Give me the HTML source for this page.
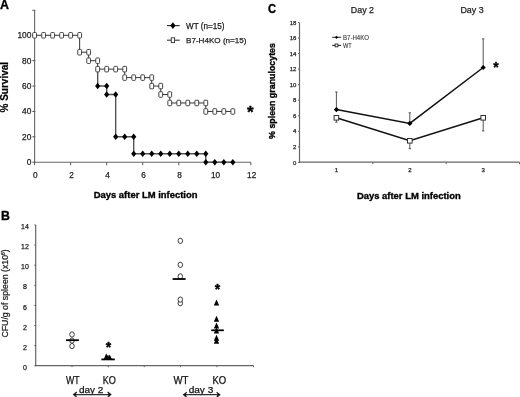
<!DOCTYPE html>
<html><head><meta charset="utf-8"><style>
html,body{margin:0;padding:0;background:#fff;width:520px;height:397px;overflow:hidden}
svg{display:block;will-change:transform;filter:blur(0.3px);font-family:"Liberation Sans", sans-serif}
</style></head><body>
<svg width="520" height="397" viewBox="0 0 520 397">
<rect width="520" height="397" fill="#fff"/>
<text x="0.10" y="8.90" font-size="12.4" text-anchor="start" font-weight="bold" fill="#000"  stroke="#000" stroke-width="0.35" stroke-linejoin="round">A</text>
<line x1="34.60" y1="10.30" x2="34.60" y2="162.70" stroke="#666" stroke-width="1.1" />
<line x1="32.30" y1="162.20" x2="35.30" y2="162.20" stroke="#555" stroke-width="1.0" />
<line x1="32.30" y1="136.82" x2="35.30" y2="136.82" stroke="#555" stroke-width="1.0" />
<line x1="32.30" y1="111.44" x2="35.30" y2="111.44" stroke="#555" stroke-width="1.0" />
<line x1="32.30" y1="86.06" x2="35.30" y2="86.06" stroke="#555" stroke-width="1.0" />
<line x1="32.30" y1="60.68" x2="35.30" y2="60.68" stroke="#555" stroke-width="1.0" />
<line x1="32.30" y1="35.30" x2="35.30" y2="35.30" stroke="#555" stroke-width="1.0" />
<line x1="32.30" y1="10.30" x2="35.30" y2="10.30" stroke="#555" stroke-width="1.0" />
<text x="31.40" y="165.10" font-size="8.4" text-anchor="end" font-weight="normal" fill="#222"  stroke="#222" stroke-width="0.25" stroke-linejoin="round">0</text>
<text x="31.40" y="139.72" font-size="8.4" text-anchor="end" font-weight="normal" fill="#222"  stroke="#222" stroke-width="0.25" stroke-linejoin="round">20</text>
<text x="31.40" y="114.34" font-size="8.4" text-anchor="end" font-weight="normal" fill="#222"  stroke="#222" stroke-width="0.25" stroke-linejoin="round">40</text>
<text x="31.40" y="88.96" font-size="8.4" text-anchor="end" font-weight="normal" fill="#222"  stroke="#222" stroke-width="0.25" stroke-linejoin="round">60</text>
<text x="31.40" y="63.58" font-size="8.4" text-anchor="end" font-weight="normal" fill="#222"  stroke="#222" stroke-width="0.25" stroke-linejoin="round">80</text>
<text x="31.40" y="38.20" font-size="8.4" text-anchor="end" font-weight="normal" fill="#222"  stroke="#222" stroke-width="0.25" stroke-linejoin="round">100</text>
<line x1="34.60" y1="162.20" x2="250.84" y2="162.20" stroke="#666" stroke-width="1.1" />
<line x1="34.60" y1="162.20" x2="34.60" y2="165.20" stroke="#555" stroke-width="1.0" />
<text x="35.40" y="177.90" font-size="8.2" text-anchor="middle" font-weight="normal" fill="#222"  stroke="#222" stroke-width="0.25" stroke-linejoin="round">0</text>
<line x1="70.64" y1="162.20" x2="70.64" y2="165.20" stroke="#555" stroke-width="1.0" />
<text x="71.44" y="177.90" font-size="8.2" text-anchor="middle" font-weight="normal" fill="#222"  stroke="#222" stroke-width="0.25" stroke-linejoin="round">2</text>
<line x1="106.68" y1="162.20" x2="106.68" y2="165.20" stroke="#555" stroke-width="1.0" />
<text x="107.48" y="177.90" font-size="8.2" text-anchor="middle" font-weight="normal" fill="#222"  stroke="#222" stroke-width="0.25" stroke-linejoin="round">4</text>
<line x1="142.72" y1="162.20" x2="142.72" y2="165.20" stroke="#555" stroke-width="1.0" />
<text x="143.52" y="177.90" font-size="8.2" text-anchor="middle" font-weight="normal" fill="#222"  stroke="#222" stroke-width="0.25" stroke-linejoin="round">6</text>
<line x1="178.76" y1="162.20" x2="178.76" y2="165.20" stroke="#555" stroke-width="1.0" />
<text x="179.56" y="177.90" font-size="8.2" text-anchor="middle" font-weight="normal" fill="#222"  stroke="#222" stroke-width="0.25" stroke-linejoin="round">8</text>
<line x1="214.80" y1="162.20" x2="214.80" y2="165.20" stroke="#555" stroke-width="1.0" />
<text x="215.60" y="177.90" font-size="8.2" text-anchor="middle" font-weight="normal" fill="#222"  stroke="#222" stroke-width="0.25" stroke-linejoin="round">10</text>
<line x1="250.84" y1="162.20" x2="250.84" y2="165.20" stroke="#555" stroke-width="1.0" />
<text x="251.64" y="177.90" font-size="8.2" text-anchor="middle" font-weight="normal" fill="#222"  stroke="#222" stroke-width="0.25" stroke-linejoin="round">12</text>
<text x="145.60" y="197.70" font-size="9.45" text-anchor="middle" font-weight="bold" fill="#000"  stroke="#000" stroke-width="0.35" stroke-linejoin="round">Days after LM infection</text>
<text transform="translate(8.3,87.2) rotate(-90)" x="0" y="0" font-size="10" text-anchor="middle" font-weight="bold" fill="#000" stroke="#000" stroke-width="0.2">% Survival</text>
<polyline points="97.67,69.14 97.67,86.06 106.68,86.06 106.68,94.52 115.69,94.52 115.69,136.82 133.71,136.82 133.71,153.74 205.79,153.74 205.79,162.20 232.82,162.20" fill="none" stroke="#555" stroke-width="1.4" stroke-linejoin="miter"/>
<path d="M97.67,82.76 L100.27,86.06 L97.67,89.36 L95.07,86.06 Z" fill="#000" stroke="none" stroke-width="0"/>
<path d="M106.68,82.76 L109.28,86.06 L106.68,89.36 L104.08,86.06 Z" fill="#000" stroke="none" stroke-width="0"/>
<path d="M106.68,91.22 L109.28,94.52 L106.68,97.82 L104.08,94.52 Z" fill="#000" stroke="none" stroke-width="0"/>
<path d="M115.69,91.22 L118.29,94.52 L115.69,97.82 L113.09,94.52 Z" fill="#000" stroke="none" stroke-width="0"/>
<path d="M115.69,133.52 L118.29,136.82 L115.69,140.12 L113.09,136.82 Z" fill="#000" stroke="none" stroke-width="0"/>
<path d="M124.70,133.52 L127.30,136.82 L124.70,140.12 L122.10,136.82 Z" fill="#000" stroke="none" stroke-width="0"/>
<path d="M133.71,133.52 L136.31,136.82 L133.71,140.12 L131.11,136.82 Z" fill="#000" stroke="none" stroke-width="0"/>
<path d="M133.71,150.44 L136.31,153.74 L133.71,157.04 L131.11,153.74 Z" fill="#000" stroke="none" stroke-width="0"/>
<path d="M142.72,150.44 L145.32,153.74 L142.72,157.04 L140.12,153.74 Z" fill="#000" stroke="none" stroke-width="0"/>
<path d="M151.73,150.44 L154.33,153.74 L151.73,157.04 L149.13,153.74 Z" fill="#000" stroke="none" stroke-width="0"/>
<path d="M160.74,150.44 L163.34,153.74 L160.74,157.04 L158.14,153.74 Z" fill="#000" stroke="none" stroke-width="0"/>
<path d="M169.75,150.44 L172.35,153.74 L169.75,157.04 L167.15,153.74 Z" fill="#000" stroke="none" stroke-width="0"/>
<path d="M178.76,150.44 L181.36,153.74 L178.76,157.04 L176.16,153.74 Z" fill="#000" stroke="none" stroke-width="0"/>
<path d="M187.77,150.44 L190.37,153.74 L187.77,157.04 L185.17,153.74 Z" fill="#000" stroke="none" stroke-width="0"/>
<path d="M196.78,150.44 L199.38,153.74 L196.78,157.04 L194.18,153.74 Z" fill="#000" stroke="none" stroke-width="0"/>
<path d="M205.79,150.44 L208.39,153.74 L205.79,157.04 L203.19,153.74 Z" fill="#000" stroke="none" stroke-width="0"/>
<path d="M205.79,158.90 L208.39,162.20 L205.79,165.50 L203.19,162.20 Z" fill="#000" stroke="none" stroke-width="0"/>
<path d="M214.80,158.90 L217.40,162.20 L214.80,165.50 L212.20,162.20 Z" fill="#000" stroke="none" stroke-width="0"/>
<path d="M223.81,158.90 L226.41,162.20 L223.81,165.50 L221.21,162.20 Z" fill="#000" stroke="none" stroke-width="0"/>
<path d="M232.82,158.90 L235.42,162.20 L232.82,165.50 L230.22,162.20 Z" fill="#000" stroke="none" stroke-width="0"/>
<polyline points="34.60,35.30 79.65,35.30 79.65,52.22 88.66,52.22 88.66,60.68 97.67,60.68 97.67,69.14 124.70,69.14 124.70,77.60 151.73,77.60 151.73,86.06 160.74,86.06 160.74,94.52 169.75,94.52 169.75,102.98 205.79,102.98 205.79,111.44 232.82,111.44" fill="none" stroke="#333" stroke-width="1.0" stroke-linejoin="miter"/>
<rect x="32.70" y="32.55" width="3.80" height="5.50" rx="0.8" fill="#fff" stroke="#444" stroke-width="1.0"/>
<rect x="41.71" y="32.55" width="3.80" height="5.50" rx="0.8" fill="#fff" stroke="#444" stroke-width="1.0"/>
<rect x="50.72" y="32.55" width="3.80" height="5.50" rx="0.8" fill="#fff" stroke="#444" stroke-width="1.0"/>
<rect x="59.73" y="32.55" width="3.80" height="5.50" rx="0.8" fill="#fff" stroke="#444" stroke-width="1.0"/>
<rect x="68.74" y="32.55" width="3.80" height="5.50" rx="0.8" fill="#fff" stroke="#444" stroke-width="1.0"/>
<rect x="77.75" y="32.55" width="3.80" height="5.50" rx="0.8" fill="#fff" stroke="#444" stroke-width="1.0"/>
<rect x="77.75" y="49.47" width="3.80" height="5.50" rx="0.8" fill="#fff" stroke="#444" stroke-width="1.0"/>
<rect x="86.76" y="49.47" width="3.80" height="5.50" rx="0.8" fill="#fff" stroke="#444" stroke-width="1.0"/>
<rect x="86.76" y="57.93" width="3.80" height="5.50" rx="0.8" fill="#fff" stroke="#444" stroke-width="1.0"/>
<rect x="95.77" y="57.93" width="3.80" height="5.50" rx="0.8" fill="#fff" stroke="#444" stroke-width="1.0"/>
<rect x="95.77" y="66.39" width="3.80" height="5.50" rx="0.8" fill="#fff" stroke="#444" stroke-width="1.0"/>
<rect x="104.78" y="66.39" width="3.80" height="5.50" rx="0.8" fill="#fff" stroke="#444" stroke-width="1.0"/>
<rect x="113.79" y="66.39" width="3.80" height="5.50" rx="0.8" fill="#fff" stroke="#444" stroke-width="1.0"/>
<rect x="122.80" y="66.39" width="3.80" height="5.50" rx="0.8" fill="#fff" stroke="#444" stroke-width="1.0"/>
<rect x="122.80" y="74.85" width="3.80" height="5.50" rx="0.8" fill="#fff" stroke="#444" stroke-width="1.0"/>
<rect x="131.81" y="74.85" width="3.80" height="5.50" rx="0.8" fill="#fff" stroke="#444" stroke-width="1.0"/>
<rect x="140.82" y="74.85" width="3.80" height="5.50" rx="0.8" fill="#fff" stroke="#444" stroke-width="1.0"/>
<rect x="149.83" y="74.85" width="3.80" height="5.50" rx="0.8" fill="#fff" stroke="#444" stroke-width="1.0"/>
<rect x="149.83" y="83.31" width="3.80" height="5.50" rx="0.8" fill="#fff" stroke="#444" stroke-width="1.0"/>
<rect x="158.84" y="83.31" width="3.80" height="5.50" rx="0.8" fill="#fff" stroke="#444" stroke-width="1.0"/>
<rect x="158.84" y="91.77" width="3.80" height="5.50" rx="0.8" fill="#fff" stroke="#444" stroke-width="1.0"/>
<rect x="167.85" y="91.77" width="3.80" height="5.50" rx="0.8" fill="#fff" stroke="#444" stroke-width="1.0"/>
<rect x="167.85" y="100.23" width="3.80" height="5.50" rx="0.8" fill="#fff" stroke="#444" stroke-width="1.0"/>
<rect x="176.86" y="100.23" width="3.80" height="5.50" rx="0.8" fill="#fff" stroke="#444" stroke-width="1.0"/>
<rect x="185.87" y="100.23" width="3.80" height="5.50" rx="0.8" fill="#fff" stroke="#444" stroke-width="1.0"/>
<rect x="194.88" y="100.23" width="3.80" height="5.50" rx="0.8" fill="#fff" stroke="#444" stroke-width="1.0"/>
<rect x="203.89" y="100.23" width="3.80" height="5.50" rx="0.8" fill="#fff" stroke="#444" stroke-width="1.0"/>
<rect x="203.89" y="108.69" width="3.80" height="5.50" rx="0.8" fill="#fff" stroke="#444" stroke-width="1.0"/>
<rect x="212.90" y="108.69" width="3.80" height="5.50" rx="0.8" fill="#fff" stroke="#444" stroke-width="1.0"/>
<rect x="221.91" y="108.69" width="3.80" height="5.50" rx="0.8" fill="#fff" stroke="#444" stroke-width="1.0"/>
<rect x="230.92" y="108.69" width="3.80" height="5.50" rx="0.8" fill="#fff" stroke="#444" stroke-width="1.0"/>
<line x1="167.00" y1="25.60" x2="179.70" y2="25.60" stroke="#333" stroke-width="1.2" />
<path d="M172.90,22.30 L175.50,25.60 L172.90,28.90 L170.30,25.60 Z" fill="#000" stroke="none" stroke-width="0"/>
<text x="186.00" y="29.40" font-size="8.15" text-anchor="start" font-weight="normal" fill="#222"  stroke="#222" stroke-width="0.25" stroke-linejoin="round">WT (n=15)</text>
<line x1="167.00" y1="40.20" x2="179.70" y2="40.20" stroke="#333" stroke-width="1.1" />
<rect x="171.30" y="37.80" width="3.20" height="4.80" rx="0.0" fill="#fff" stroke="#444" stroke-width="1.0"/>
<text x="186.00" y="43.10" font-size="8.1" text-anchor="start" font-weight="normal" fill="#222"  stroke="#222" stroke-width="0.25" stroke-linejoin="round">B7-H4KO (n=15)</text>
<text x="250.20" y="117.60" font-size="17" text-anchor="middle" font-weight="bold" fill="#000"  stroke="#000" stroke-width="0.35" stroke-linejoin="round">*</text>
<text x="267.90" y="13.00" font-size="11.9" text-anchor="start" font-weight="bold" fill="#000"  stroke="#000" stroke-width="0.35" stroke-linejoin="round" textLength="8.00" lengthAdjust="spacingAndGlyphs">C</text>
<text x="350.80" y="12.80" font-size="8.9" text-anchor="start" font-weight="normal" fill="#222"  stroke="#222" stroke-width="0.25" stroke-linejoin="round">Day 2</text>
<text x="460.40" y="12.80" font-size="8.9" text-anchor="start" font-weight="normal" fill="#222"  stroke="#222" stroke-width="0.25" stroke-linejoin="round">Day 3</text>
<line x1="299.50" y1="22.54" x2="299.50" y2="162.90" stroke="#666" stroke-width="1.2" />
<line x1="298.00" y1="162.40" x2="299.50" y2="162.40" stroke="#666" stroke-width="1.0" />
<text x="296.40" y="164.55" font-size="6" text-anchor="end" font-weight="normal" fill="#222"  stroke="#222" stroke-width="0.25" stroke-linejoin="round">0</text>
<line x1="298.00" y1="146.86" x2="299.50" y2="146.86" stroke="#666" stroke-width="1.0" />
<text x="296.40" y="149.01" font-size="6" text-anchor="end" font-weight="normal" fill="#222"  stroke="#222" stroke-width="0.25" stroke-linejoin="round">2</text>
<line x1="298.00" y1="131.32" x2="299.50" y2="131.32" stroke="#666" stroke-width="1.0" />
<text x="296.40" y="133.47" font-size="6" text-anchor="end" font-weight="normal" fill="#222"  stroke="#222" stroke-width="0.25" stroke-linejoin="round">4</text>
<line x1="298.00" y1="115.78" x2="299.50" y2="115.78" stroke="#666" stroke-width="1.0" />
<text x="296.40" y="117.93" font-size="6" text-anchor="end" font-weight="normal" fill="#222"  stroke="#222" stroke-width="0.25" stroke-linejoin="round">6</text>
<line x1="298.00" y1="100.24" x2="299.50" y2="100.24" stroke="#666" stroke-width="1.0" />
<text x="296.40" y="102.39" font-size="6" text-anchor="end" font-weight="normal" fill="#222"  stroke="#222" stroke-width="0.25" stroke-linejoin="round">8</text>
<line x1="298.00" y1="84.70" x2="299.50" y2="84.70" stroke="#666" stroke-width="1.0" />
<text x="296.40" y="86.85" font-size="6" text-anchor="end" font-weight="normal" fill="#222"  stroke="#222" stroke-width="0.25" stroke-linejoin="round">10</text>
<line x1="298.00" y1="69.16" x2="299.50" y2="69.16" stroke="#666" stroke-width="1.0" />
<text x="296.40" y="71.31" font-size="6" text-anchor="end" font-weight="normal" fill="#222"  stroke="#222" stroke-width="0.25" stroke-linejoin="round">12</text>
<line x1="298.00" y1="53.62" x2="299.50" y2="53.62" stroke="#666" stroke-width="1.0" />
<text x="296.40" y="55.77" font-size="6" text-anchor="end" font-weight="normal" fill="#222"  stroke="#222" stroke-width="0.25" stroke-linejoin="round">14</text>
<line x1="298.00" y1="38.08" x2="299.50" y2="38.08" stroke="#666" stroke-width="1.0" />
<text x="296.40" y="40.23" font-size="6" text-anchor="end" font-weight="normal" fill="#222"  stroke="#222" stroke-width="0.25" stroke-linejoin="round">16</text>
<line x1="298.00" y1="22.54" x2="299.50" y2="22.54" stroke="#666" stroke-width="1.0" />
<text x="296.40" y="24.69" font-size="6" text-anchor="end" font-weight="normal" fill="#222"  stroke="#222" stroke-width="0.25" stroke-linejoin="round">18</text>
<line x1="299.50" y1="162.20" x2="519.50" y2="162.20" stroke="#666" stroke-width="1.2" />
<line x1="372.80" y1="162.20" x2="372.80" y2="164.20" stroke="#666" stroke-width="1.0" />
<line x1="446.20" y1="162.20" x2="446.20" y2="164.20" stroke="#666" stroke-width="1.0" />
<line x1="519.50" y1="162.20" x2="519.50" y2="164.20" stroke="#666" stroke-width="1.0" />
<text x="336.40" y="172.40" font-size="6" text-anchor="middle" font-weight="normal" fill="#222"  stroke="#222" stroke-width="0.25" stroke-linejoin="round">1</text>
<text x="409.80" y="172.40" font-size="6" text-anchor="middle" font-weight="normal" fill="#222"  stroke="#222" stroke-width="0.25" stroke-linejoin="round">2</text>
<text x="483.20" y="172.40" font-size="6" text-anchor="middle" font-weight="normal" fill="#222"  stroke="#222" stroke-width="0.25" stroke-linejoin="round">3</text>
<text x="408.80" y="198.50" font-size="9.45" text-anchor="middle" font-weight="bold" fill="#000"  stroke="#000" stroke-width="0.35" stroke-linejoin="round">Days after LM infection</text>
<text transform="translate(275,91) rotate(-90)" x="0" y="0" font-size="8.86" text-anchor="middle" font-weight="bold" fill="#000" stroke="#000" stroke-width="0.35">% spleen granulocytes</text>
<line x1="336.40" y1="109.60" x2="336.40" y2="92.00" stroke="#555" stroke-width="1.0" />
<line x1="335.20" y1="92.00" x2="337.60" y2="92.00" stroke="#555" stroke-width="1.0" />
<line x1="409.80" y1="123.40" x2="409.80" y2="112.80" stroke="#555" stroke-width="1.0" />
<line x1="408.60" y1="112.80" x2="411.00" y2="112.80" stroke="#555" stroke-width="1.0" />
<line x1="483.20" y1="67.50" x2="483.20" y2="38.90" stroke="#555" stroke-width="1.0" />
<line x1="482.00" y1="38.90" x2="484.40" y2="38.90" stroke="#555" stroke-width="1.0" />
<line x1="336.40" y1="117.80" x2="336.40" y2="122.20" stroke="#555" stroke-width="1.0" />
<line x1="335.20" y1="122.20" x2="337.60" y2="122.20" stroke="#555" stroke-width="1.0" />
<line x1="409.80" y1="140.80" x2="409.80" y2="148.70" stroke="#555" stroke-width="1.0" />
<line x1="408.60" y1="148.70" x2="411.00" y2="148.70" stroke="#555" stroke-width="1.0" />
<line x1="483.20" y1="117.80" x2="483.20" y2="130.90" stroke="#555" stroke-width="1.0" />
<line x1="482.00" y1="130.90" x2="484.40" y2="130.90" stroke="#555" stroke-width="1.0" />
<polyline points="336.40,109.60 409.80,123.40 483.20,67.50" fill="none" stroke="#111" stroke-width="1.5" stroke-linejoin="miter"/>
<polyline points="336.40,117.80 409.80,140.80 483.20,117.80" fill="none" stroke="#111" stroke-width="1.5" stroke-linejoin="miter"/>
<path d="M336.40,107.00 L339.00,109.60 L336.40,112.20 L333.80,109.60 Z" fill="#000" stroke="none" stroke-width="0"/>
<path d="M409.80,120.80 L412.40,123.40 L409.80,126.00 L407.20,123.40 Z" fill="#000" stroke="none" stroke-width="0"/>
<path d="M483.20,64.90 L485.80,67.50 L483.20,70.10 L480.60,67.50 Z" fill="#000" stroke="none" stroke-width="0"/>
<rect x="334.10" y="115.50" width="4.60" height="4.60" rx="0.0" fill="#fff" stroke="#333" stroke-width="1.0"/>
<rect x="407.50" y="138.50" width="4.60" height="4.60" rx="0.0" fill="#fff" stroke="#333" stroke-width="1.0"/>
<rect x="480.90" y="115.50" width="4.60" height="4.60" rx="0.0" fill="#fff" stroke="#333" stroke-width="1.0"/>
<text x="495.90" y="71.80" font-size="14" text-anchor="middle" font-weight="bold" fill="#000"  stroke="#000" stroke-width="0.35" stroke-linejoin="round">*</text>
<line x1="332.20" y1="37.30" x2="341.20" y2="37.30" stroke="#222" stroke-width="1.0" />
<path d="M336.50,35.70 L338.10,37.30 L336.50,38.90 L334.90,37.30 Z" fill="#000" stroke="none" stroke-width="0"/>
<text x="343.00" y="39.90" font-size="6.5" text-anchor="start" font-weight="normal" fill="#333"  stroke="#333" stroke-width="0.1" stroke-linejoin="round" textLength="26.00" lengthAdjust="spacingAndGlyphs">B7-H4KO</text>
<line x1="332.20" y1="45.40" x2="341.20" y2="45.40" stroke="#222" stroke-width="1.0" />
<rect x="335.10" y="44.00" width="2.80" height="2.80" rx="0.0" fill="#fff" stroke="#222" stroke-width="0.9"/>
<text x="343.00" y="47.70" font-size="6.5" text-anchor="start" font-weight="normal" fill="#333"  stroke="#333" stroke-width="0.1" stroke-linejoin="round" textLength="8.80" lengthAdjust="spacingAndGlyphs">WT</text>
<text x="1.10" y="220.30" font-size="12.3" text-anchor="start" font-weight="bold" fill="#000"  stroke="#000" stroke-width="0.35" stroke-linejoin="round">B</text>
<line x1="35.70" y1="225.00" x2="35.70" y2="366.20" stroke="#666" stroke-width="1.2" />
<line x1="34.40" y1="225.00" x2="35.70" y2="225.00" stroke="#444" stroke-width="1.0" />
<text x="25.00" y="229.10" font-size="7" text-anchor="middle" font-weight="normal" fill="#222"  stroke="#222" stroke-width="0.25" stroke-linejoin="round">14</text>
<line x1="34.40" y1="245.10" x2="35.70" y2="245.10" stroke="#444" stroke-width="1.0" />
<text x="25.00" y="249.20" font-size="7" text-anchor="middle" font-weight="normal" fill="#222"  stroke="#222" stroke-width="0.25" stroke-linejoin="round">12</text>
<line x1="34.40" y1="265.20" x2="35.70" y2="265.20" stroke="#444" stroke-width="1.0" />
<text x="25.00" y="269.30" font-size="7" text-anchor="middle" font-weight="normal" fill="#222"  stroke="#222" stroke-width="0.25" stroke-linejoin="round">10</text>
<line x1="34.40" y1="285.30" x2="35.70" y2="285.30" stroke="#444" stroke-width="1.0" />
<text x="25.00" y="289.40" font-size="7" text-anchor="middle" font-weight="normal" fill="#222"  stroke="#222" stroke-width="0.25" stroke-linejoin="round">8</text>
<line x1="34.40" y1="305.40" x2="35.70" y2="305.40" stroke="#444" stroke-width="1.0" />
<text x="25.00" y="309.50" font-size="7" text-anchor="middle" font-weight="normal" fill="#222"  stroke="#222" stroke-width="0.25" stroke-linejoin="round">6</text>
<line x1="34.40" y1="325.50" x2="35.70" y2="325.50" stroke="#444" stroke-width="1.0" />
<text x="25.00" y="329.60" font-size="7" text-anchor="middle" font-weight="normal" fill="#222"  stroke="#222" stroke-width="0.25" stroke-linejoin="round">2</text>
<line x1="34.40" y1="345.60" x2="35.70" y2="345.60" stroke="#444" stroke-width="1.0" />
<text x="25.00" y="349.70" font-size="7" text-anchor="middle" font-weight="normal" fill="#222"  stroke="#222" stroke-width="0.25" stroke-linejoin="round">2</text>
<line x1="34.40" y1="365.70" x2="35.70" y2="365.70" stroke="#444" stroke-width="1.0" />
<text x="25.00" y="369.80" font-size="7" text-anchor="middle" font-weight="normal" fill="#222"  stroke="#222" stroke-width="0.25" stroke-linejoin="round">0</text>
<line x1="35.70" y1="365.70" x2="253.50" y2="365.70" stroke="#666" stroke-width="1.2" />
<line x1="72.00" y1="365.70" x2="72.00" y2="367.20" stroke="#666" stroke-width="1.0" />
<line x1="108.30" y1="365.70" x2="108.30" y2="367.20" stroke="#666" stroke-width="1.0" />
<line x1="144.20" y1="365.70" x2="144.20" y2="367.20" stroke="#666" stroke-width="1.0" />
<line x1="180.50" y1="365.70" x2="180.50" y2="367.20" stroke="#666" stroke-width="1.0" />
<line x1="216.90" y1="365.70" x2="216.90" y2="367.20" stroke="#666" stroke-width="1.0" />
<line x1="253.50" y1="365.70" x2="253.50" y2="367.20" stroke="#666" stroke-width="1.0" />
<text transform="translate(8.3,293.4) rotate(-90)" x="0" y="0" font-size="8.75" text-anchor="middle" fill="#222" stroke="#222" stroke-width="0.25">CFU/g of spleen (x10<tspan font-size="5" dy="-3.5">6</tspan><tspan dy="3.5">)</tspan></text>
<ellipse cx="72.00" cy="340.60" rx="2.25" ry="2.65" fill="#fff" stroke="#333" stroke-width="0.95"/>
<ellipse cx="72.00" cy="346.10" rx="2.25" ry="2.65" fill="#fff" stroke="#333" stroke-width="0.95"/>
<ellipse cx="72.00" cy="334.50" rx="2.25" ry="2.65" fill="#fff" stroke="#333" stroke-width="0.95"/>
<line x1="66.00" y1="340.20" x2="78.90" y2="340.20" stroke="#000" stroke-width="1.8" />
<path d="M106.20,353.30 L108.70,359.50 L103.70,359.50 Z" fill="#000"/>
<path d="M109.60,354.60 L112.10,359.60 L107.10,359.60 Z" fill="#000"/>
<path d="M107.90,354.40 L110.40,359.80 L105.40,359.80 Z" fill="#000"/>
<line x1="101.40" y1="359.40" x2="114.80" y2="359.40" stroke="#000" stroke-width="1.8" />
<text x="108.60" y="351.90" font-size="14" text-anchor="middle" font-weight="bold" fill="#000"  stroke="#000" stroke-width="0.35" stroke-linejoin="round">*</text>
<ellipse cx="180.30" cy="303.20" rx="2.25" ry="2.65" fill="#fff" stroke="#333" stroke-width="0.95"/>
<ellipse cx="180.30" cy="299.60" rx="2.25" ry="2.65" fill="#fff" stroke="#333" stroke-width="0.95"/>
<ellipse cx="180.30" cy="276.40" rx="2.25" ry="2.65" fill="#fff" stroke="#333" stroke-width="0.95"/>
<ellipse cx="180.30" cy="264.80" rx="2.25" ry="2.65" fill="#fff" stroke="#333" stroke-width="0.95"/>
<ellipse cx="180.30" cy="240.80" rx="2.25" ry="2.65" fill="#fff" stroke="#333" stroke-width="0.95"/>
<line x1="172.60" y1="279.00" x2="185.60" y2="279.00" stroke="#000" stroke-width="1.8" />
<path d="M216.50,299.50 L219.20,305.50 L213.80,305.50 Z" fill="#000"/>
<path d="M216.50,315.80 L219.20,321.80 L213.80,321.80 Z" fill="#000"/>
<path d="M216.50,322.60 L219.20,328.60 L213.80,328.60 Z" fill="#000"/>
<path d="M216.50,327.50 L219.20,333.50 L213.80,333.50 Z" fill="#000"/>
<path d="M216.50,334.70 L219.20,340.70 L213.80,340.70 Z" fill="#000"/>
<path d="M216.50,337.70 L219.20,343.70 L213.80,343.70 Z" fill="#000"/>
<line x1="211.30" y1="330.30" x2="223.80" y2="330.30" stroke="#000" stroke-width="1.8" />
<text x="217.60" y="294.10" font-size="14" text-anchor="middle" font-weight="bold" fill="#000"  stroke="#000" stroke-width="0.35" stroke-linejoin="round">*</text>
<text x="72.80" y="384.20" font-size="10.4" text-anchor="middle" font-weight="normal" fill="#111"  stroke="#111" stroke-width="0.25" stroke-linejoin="round" textLength="13.60" lengthAdjust="spacingAndGlyphs">WT</text>
<text x="109.30" y="384.20" font-size="10.4" text-anchor="middle" font-weight="normal" fill="#111"  stroke="#111" stroke-width="0.25" stroke-linejoin="round" textLength="13.20" lengthAdjust="spacingAndGlyphs">KO</text>
<text x="180.90" y="384.20" font-size="10.4" text-anchor="middle" font-weight="normal" fill="#111"  stroke="#111" stroke-width="0.25" stroke-linejoin="round" textLength="15.00" lengthAdjust="spacingAndGlyphs">WT</text>
<text x="219.30" y="384.20" font-size="10.4" text-anchor="middle" font-weight="normal" fill="#111"  stroke="#111" stroke-width="0.25" stroke-linejoin="round" textLength="13.80" lengthAdjust="spacingAndGlyphs">KO</text>
<text x="91.20" y="392.70" font-size="9.6" text-anchor="middle" font-weight="normal" fill="#111"  stroke="#111" stroke-width="0.25" stroke-linejoin="round" textLength="24.40" lengthAdjust="spacingAndGlyphs">day 2</text>
<text x="201.00" y="392.80" font-size="9.6" text-anchor="middle" font-weight="normal" fill="#111"  stroke="#111" stroke-width="0.25" stroke-linejoin="round" textLength="24.60" lengthAdjust="spacingAndGlyphs">day 3</text>
<line x1="74.60" y1="394.60" x2="109.80" y2="394.60" stroke="#333" stroke-width="1.2" />
<polyline points="76.80,392.00 73.60,394.60 76.80,397.20" fill="none" stroke="#222" stroke-width="1.2" stroke-linejoin="miter"/>
<polyline points="107.60,392.00 110.80,394.60 107.60,397.20" fill="none" stroke="#222" stroke-width="1.2" stroke-linejoin="miter"/>
<path d="M73.60,394.60 L76.20,393.10 L76.20,396.10 Z" fill="#111"/>
<path d="M110.80,394.60 L108.20,393.10 L108.20,396.10 Z" fill="#111"/>
<line x1="184.60" y1="394.70" x2="218.80" y2="394.70" stroke="#333" stroke-width="1.2" />
<polyline points="186.80,392.10 183.60,394.70 186.80,397.30" fill="none" stroke="#222" stroke-width="1.2" stroke-linejoin="miter"/>
<polyline points="216.60,392.10 219.80,394.70 216.60,397.30" fill="none" stroke="#222" stroke-width="1.2" stroke-linejoin="miter"/>
<path d="M183.60,394.70 L186.20,393.20 L186.20,396.20 Z" fill="#111"/>
<path d="M219.80,394.70 L217.20,393.20 L217.20,396.20 Z" fill="#111"/>
</svg>
</body></html>
